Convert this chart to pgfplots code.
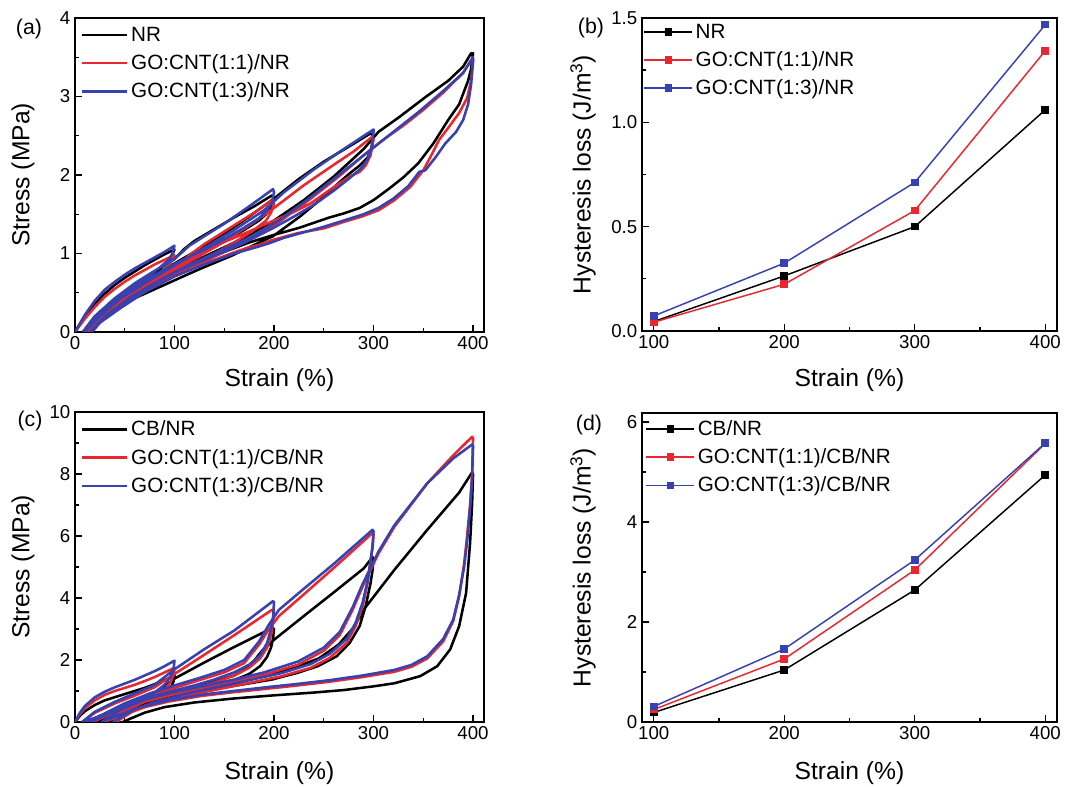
\documentclass[border=0pt]{standalone}
\usepackage{pgfplots}
\pgfplotsset{compat=1.18}
\usepackage{fontspec}
\setmainfont{Liberation Sans}
\definecolor{myred}{RGB}{232,40,48}
\definecolor{myblue}{RGB}{55,65,175}
\newcommand{\tickf}{\fontsize{14}{16}\selectfont}
\newcommand{\labf}{\fontsize{18.5}{21}\selectfont}
\newcommand{\legf}{\fontsize{15.5}{18}\selectfont}
\pgfplotsset{
  panel/.style={
    scale only axis,
    axis line style={line width=1.1pt},
    every tick/.style={line width=1pt, black},
    tick align=inside,
    xtick pos=bottom, ytick pos=left,
    major tick length=5pt, minor tick length=2.8pt,
    ticklabel style={font=\tickf},
    label style={font=\labf},
    /pgf/number format/assume math mode=true,
    legend cell align=left,
    legend style={draw=none, fill=none, font=\legf, anchor=north west, inner sep=1pt, row sep=4.5pt},
  },
  ssline/.style={no marks, line width=1.9pt, line join=round},
  hlline/.style={line width=1.1pt, mark=square*, mark size=2.3pt},
  lineleg/.style={legend image code/.code={\draw[##1] (0pt,0pt) -- (34pt,0pt);}, legend image post style={line width=1.9pt}},
  markleg/.style={legend image code/.code={\draw[mark repeat=2,mark phase=2,##1] plot coordinates {(0pt,0pt)(18pt,0pt)(36pt,0pt)};}},
}
\begin{document}
\begin{tikzpicture}
\useasboundingbox (0,0) rectangle (802.5pt,590.25pt);

% ---------------- (a) ----------------
\begin{axis}[panel, lineleg, at={(56.25pt,341.25pt)}, anchor=south west,
  width=306.75pt, height=235.5pt,
  xmin=0, xmax=411, ymin=0, ymax=4,
  xtick={0,100,200,300,400}, minor x tick num=1,
  ytick={0,1,2,3,4}, minor y tick num=1,
  xlabel={Strain (\%)}, ylabel={Stress (MPa)},
  xlabel style={at={(axis description cs:0.5,-0.153)}, anchor=center},
  ylabel style={at={(axis description cs:-0.127,0.5)}, anchor=center},
  legend style={at={(axis description cs:0.01,0.985)}},
]
\addplot[ssline, black] coordinates {
(0,0)(5,0.1)(10,0.2)(20,0.36)(30,0.49)(40,0.6)(50,0.69)(60,0.77)(70,0.85)(80,0.92)(90,0.99)(100,1.05)
(97,0.96)(92,0.88)(85,0.8)(75,0.7)(60,0.57)(45,0.43)(30,0.28)(18,0.13)(8,0)
(20,0.2)(40,0.42)(60,0.6)(80,0.77)(100,0.93)(110,1.06)(120,1.16)(140,1.31)(160,1.46)(180,1.6)(198,1.74)
(200,1.7)(197,1.58)(192,1.5)(185,1.42)(170,1.3)(150,1.15)(130,1.02)(110,0.9)(90,0.78)(70,0.63)(50,0.47)(30,0.28)(20,0.16)(11,0)
(25,0.2)(45,0.42)(65,0.6)(90,0.8)(120,1.02)(150,1.25)(175,1.47)(200,1.7)(225,1.95)(250,2.17)(275,2.36)(297,2.53)
(300,2.5)(298,2.35)(294,2.22)(286,2.12)(276,2.02)(266,1.91)(246,1.68)(226,1.47)(199,1.22)(175,1.08)(159,0.98)(125,0.8)(95,0.63)(60,0.43)(35,0.25)(14,0)
(30,0.22)(50,0.42)(80,0.64)(110,0.84)(140,1.02)(170,1.2)(200,1.42)(230,1.68)(260,1.98)(290,2.33)(305,2.55)(325,2.73)(353,3.0)(375,3.2)(390,3.38)(398,3.55)
(400,3.55)(398,3.35)(395,3.2)(386,2.9)(375,2.7)(360,2.4)(345,2.15)(330,1.97)(315,1.82)(300,1.68)(286,1.58)(270,1.51)(256,1.46)(226,1.33)(198,1.23)(175,1.14)(150,1.02)(125,0.88)(92,0.7)(58,0.48)(31,0.27)(15,0)
};
\addplot[ssline, myred] coordinates {
(0,0)(10,0.17)(20,0.32)(30,0.45)(40,0.55)(50,0.64)(60,0.72)(70,0.79)(80,0.86)(90,0.92)(100,0.98)
(96,0.88)(90,0.8)(80,0.71)(65,0.59)(50,0.46)(35,0.32)(20,0.16)(10,0)
(20,0.14)(40,0.36)(60,0.54)(80,0.68)(100,0.82)(115,0.98)(130,1.12)(150,1.28)(170,1.44)(185,1.56)(198,1.68)
(200,1.64)(197,1.52)(192,1.42)(180,1.3)(160,1.14)(140,1.0)(120,0.88)(100,0.76)(80,0.63)(60,0.49)(40,0.32)(25,0.17)(13,0)
(25,0.15)(45,0.37)(65,0.53)(90,0.72)(120,0.93)(150,1.15)(180,1.4)(200,1.58)(230,1.87)(260,2.13)(280,2.3)(298,2.48)
(300,2.45)(297,2.25)(292,2.12)(286,2.04)(276,1.98)(256,1.81)(237,1.64)(217,1.51)(198,1.41)(175,1.28)(143,1.11)(120,0.97)(90,0.76)(60,0.52)(35,0.27)(16,0)
(30,0.18)(55,0.42)(85,0.63)(115,0.82)(145,0.99)(175,1.17)(205,1.4)(235,1.68)(265,1.98)(290,2.25)(310,2.45)(330,2.63)(350,2.83)(370,3.05)(390,3.3)(399,3.48)
(400,3.46)(398,3.2)(394,2.98)(386,2.79)(375,2.6)(366,2.45)(358,2.25)(350,2.06)(337,1.85)(321,1.68)(305,1.55)(288,1.47)(272,1.41)(250,1.32)(224,1.26)(198,1.17)(185,1.11)(175,1.08)(159,1.01)(130,0.87)(100,0.71)(70,0.51)(45,0.3)(25,0.12)(17,0)
};
\addplot[ssline, myblue] coordinates {
(0,0)(10,0.22)(20,0.4)(30,0.54)(40,0.64)(50,0.73)(60,0.81)(70,0.88)(80,0.95)(90,1.02)(100,1.1)
(98,1.0)(94,0.92)(85,0.82)(70,0.68)(55,0.55)(40,0.4)(25,0.23)(15,0.1)(8,0)
(20,0.2)(40,0.43)(60,0.62)(80,0.78)(100,0.93)(115,1.1)(130,1.22)(150,1.38)(175,1.6)(199,1.82)
(200,1.78)(198,1.65)(193,1.55)(185,1.45)(170,1.33)(150,1.18)(130,1.05)(110,0.93)(90,0.8)(70,0.65)(50,0.48)(30,0.28)(18,0.13)(10,0)
(25,0.2)(45,0.42)(70,0.62)(100,0.85)(130,1.07)(160,1.3)(190,1.55)(210,1.78)(240,2.07)(270,2.33)(300,2.58)
(300,2.55)(298,2.35)(294,2.2)(287,2.08)(275,1.95)(260,1.8)(240,1.62)(220,1.47)(200,1.33)(180,1.2)(160,1.08)(130,0.92)(100,0.76)(70,0.55)(45,0.33)(25,0.12)(15,0)
(30,0.2)(55,0.44)(85,0.66)(115,0.86)(145,1.03)(175,1.2)(205,1.42)(235,1.7)(265,2.0)(295,2.3)(320,2.55)(345,2.8)(370,3.07)(390,3.3)(400,3.5)
(400,3.45)(398,3.15)(395,2.9)(390,2.7)(383,2.55)(372,2.4)(362,2.22)(352,2.06)(346,2.04)(335,1.86)(320,1.7)(305,1.58)(290,1.5)(270,1.42)(250,1.34)(230,1.27)(210,1.2)(195,1.13)(185,1.09)(160,1.0)(130,0.86)(100,0.71)(70,0.51)(45,0.3)(25,0.12)(17,0)
};
\legend{NR, GO:CNT(1:1)/NR, GO:CNT(1:3)/NR}
\end{axis}

% ---------------- (b) ----------------
\begin{axis}[panel, markleg, at={(481.5pt,342pt)}, anchor=south west,
  width=311.25pt, height=234.75pt,
  xmin=91, xmax=409, ymin=0, ymax=1.5,
  xtick={100,200,300,400}, minor x tick num=1,
  ytick={0,0.5,1.0,1.5}, minor y tick num=1,
  yticklabel style={/pgf/number format/fixed, /pgf/number format/fixed zerofill, /pgf/number format/precision=1},
  xlabel={Strain (\%)}, ylabel={Hysteresis loss (J/m\textsuperscript{3})},
  xlabel style={at={(axis description cs:0.5,-0.157)}, anchor=center},
  ylabel style={at={(axis description cs:-0.142,0.5)}, anchor=center},
  legend style={at={(axis description cs:0.0,0.995)}},
]
\addplot[hlline, black] coordinates {(100,0.045)(200,0.264)(300,0.50)(400,1.06)};
\addplot[hlline, myred] coordinates {(100,0.042)(200,0.224)(300,0.577)(400,1.343)};
\addplot[hlline, myblue] coordinates {(100,0.072)(200,0.325)(300,0.712)(400,1.468)};
\legend{NR, GO:CNT(1:1)/NR, GO:CNT(1:3)/NR}
\end{axis}

% ---------------- (c) ----------------
\begin{axis}[panel, lineleg, at={(56.25pt,48.75pt)}, anchor=south west,
  width=306.75pt, height=232.5pt,
  xmin=0, xmax=411, ymin=0, ymax=10,
  xtick={0,100,200,300,400}, minor x tick num=1,
  ytick={0,2,4,6,8,10}, minor y tick num=1,
  xlabel={Strain (\%)}, ylabel={Stress (MPa)},
  xlabel style={at={(axis description cs:0.5,-0.165)}, anchor=center},
  ylabel style={at={(axis description cs:-0.127,0.5)}, anchor=center},
  legend style={at={(axis description cs:0.01,0.985)}},
]
\addplot[ssline, black] coordinates {
(0,0)(5,0.2)(10,0.35)(20,0.55)(30,0.7)(40,0.8)(50,0.9)(60,1.0)(70,1.1)(80,1.22)(90,1.35)(100,1.5)
(99,1.3)(96,1.1)(90,0.9)(80,0.72)(65,0.55)(50,0.4)(35,0.25)(20,0.08)(12,0)
(25,0.2)(45,0.45)(65,0.7)(85,1.0)(100,1.4)(130,1.92)(160,2.42)(190,2.9)(198,3.05)
(200,3.0)(199,2.7)(197,2.4)(193,2.1)(186,1.8)(175,1.55)(160,1.35)(140,1.15)(120,1.0)(100,0.85)(80,0.7)(60,0.5)(40,0.28)(22,0)
(40,0.3)(60,0.55)(80,0.78)(100,1.0)(120,1.15)(140,1.3)(160,1.5)(175,1.78)(188,2.3)(200,2.65)(230,3.42)(260,4.18)(290,4.95)(299,5.32)
(300,5.28)(299,4.9)(297,4.48)(292,3.73)(286,3.09)(276,2.55)(263,2.12)(244,1.8)(224,1.59)(198,1.37)(159,1.16)(127,1.0)(100,0.85)(75,0.65)(55,0.4)(40,0.15)(34,0)
(45,0.25)(60,0.5)(80,0.75)(100,0.9)(130,1.05)(160,1.25)(190,1.48)(220,1.75)(245,2.05)(265,2.5)(280,3.05)(290,3.62)(321,4.91)(354,6.2)(386,7.4)(399,8.05)
(400,8.0)(399,7.0)(397,5.77)(393,4.16)(386,3.09)(377,2.34)(364,1.8)(347,1.48)(321,1.25)(300,1.15)(270,1.03)(240,0.95)(200,0.86)(160,0.76)(120,0.63)(90,0.48)(70,0.3)(55,0.1)(48,0)
};
\addplot[ssline, myred] coordinates {
(0,0)(5,0.25)(10,0.45)(20,0.7)(30,0.88)(40,1.0)(50,1.1)(60,1.2)(70,1.32)(80,1.45)(90,1.6)(100,1.75)
(99,1.5)(96,1.28)(90,1.05)(80,0.85)(65,0.65)(50,0.47)(35,0.3)(20,0.12)(8,0)
(20,0.3)(40,0.6)(60,0.85)(80,1.12)(100,1.55)(130,2.17)(160,2.8)(198,3.62)
(200,3.58)(199,3.2)(197,2.8)(193,2.4)(186,2.05)(175,1.75)(160,1.5)(140,1.27)(120,1.1)(100,0.95)(80,0.78)(60,0.57)(40,0.32)(18,0)
(30,0.25)(50,0.55)(75,0.85)(100,1.1)(125,1.35)(150,1.6)(170,1.9)(185,2.5)(195,3.0)(205,3.42)(230,4.12)(260,4.97)(299,6.1)
(300,6.05)(299,5.6)(297,5.23)(294,4.48)(289,3.73)(282,3.09)(273,2.55)(256,2.07)(237,1.75)(208,1.48)(175,1.26)(143,1.05)(110,0.84)(78,0.57)(55,0.3)(29,0)
(45,0.3)(70,0.65)(100,0.9)(130,1.1)(160,1.3)(190,1.52)(224,1.85)(250,2.3)(266,2.8)(279,3.62)(289,4.37)(305,5.44)(321,6.3)(354,7.7)(380,8.6)(399,9.2)
(400,9.15)(399,8.0)(397,7.0)(394,6.0)(391,5.1)(386,4.05)(380,3.25)(370,2.6)(354,2.05)(338,1.78)(321,1.62)(289,1.45)(256,1.3)(224,1.18)(192,1.07)(159,0.96)(127,0.84)(94,0.66)(62,0.42)(41,0)
};
\addplot[ssline, myblue] coordinates {
(0,0)(5,0.3)(10,0.52)(20,0.8)(30,0.98)(40,1.12)(50,1.24)(60,1.36)(70,1.5)(80,1.64)(90,1.8)(100,1.98)
(99,1.7)(96,1.45)(90,1.2)(80,0.95)(65,0.72)(50,0.52)(35,0.33)(20,0.13)(7,0)
(20,0.33)(40,0.65)(60,0.92)(80,1.2)(100,1.7)(130,2.35)(160,2.95)(199,3.9)
(200,3.86)(199,3.4)(197,3.0)(193,2.55)(186,2.15)(175,1.85)(160,1.6)(140,1.37)(120,1.18)(100,1.02)(80,0.84)(60,0.62)(40,0.37)(16,0)
(30,0.28)(50,0.6)(75,0.92)(100,1.18)(125,1.42)(150,1.68)(170,2.0)(185,2.6)(195,3.15)(205,3.62)(230,4.3)(260,5.1)(299,6.2)
(300,6.15)(299,5.7)(297,5.2)(294,4.55)(289,3.85)(282,3.2)(273,2.68)(256,2.2)(237,1.87)(208,1.58)(175,1.35)(143,1.13)(110,0.9)(78,0.62)(50,0.3)(27,0)
(45,0.38)(70,0.72)(100,0.97)(130,1.17)(160,1.37)(190,1.6)(224,1.95)(250,2.4)(266,2.9)(279,3.7)(289,4.45)(305,5.5)(321,6.35)(354,7.7)(380,8.5)(399,8.95)
(400,8.9)(399,7.8)(397,6.9)(394,5.8)(391,5.0)(386,4.1)(380,3.3)(370,2.68)(354,2.12)(338,1.84)(321,1.68)(289,1.5)(256,1.35)(224,1.23)(192,1.12)(159,1.0)(127,0.88)(94,0.7)(62,0.45)(38,0)
};
\legend{CB/NR, GO:CNT(1:1)/CB/NR, GO:CNT(1:3)/CB/NR}
\end{axis}

% ---------------- (d) ----------------
\begin{axis}[panel, markleg, at={(481.5pt,48.75pt)}, anchor=south west,
  width=311.25pt, height=231.75pt,
  xmin=91, xmax=409, ymin=0, ymax=6.18,
  xtick={100,200,300,400}, minor x tick num=1,
  ytick={0,2,4,6}, minor y tick num=1,
  xlabel={Strain (\%)}, ylabel={Hysteresis loss (J/m\textsuperscript{3})},
  xlabel style={at={(axis description cs:0.5,-0.165)}, anchor=center},
  ylabel style={at={(axis description cs:-0.142,0.5)}, anchor=center},
  legend style={at={(axis description cs:0.005,0.99)}},
]
\addplot[hlline, black] coordinates {(100,0.19)(200,1.04)(300,2.64)(400,4.94)};
\addplot[hlline, myred] coordinates {(100,0.25)(200,1.26)(300,3.04)(400,5.57)};
\addplot[hlline, myblue] coordinates {(100,0.31)(200,1.46)(300,3.24)(400,5.58)};
\legend{CB/NR, GO:CNT(1:1)/CB/NR, GO:CNT(1:3)/CB/NR}
\end{axis}

\node[font=\fontsize{16}{19}\selectfont] at (21.75pt,568.5pt) {(a)};
\node[font=\fontsize{16}{19}\selectfont] at (443.25pt,569.25pt) {(b)};
\node[font=\fontsize{16}{19}\selectfont] at (22.5pt,274.5pt) {(c)};
\node[font=\fontsize{16}{19}\selectfont] at (441.75pt,271.5pt) {(d)};
\end{tikzpicture}
\end{document}
